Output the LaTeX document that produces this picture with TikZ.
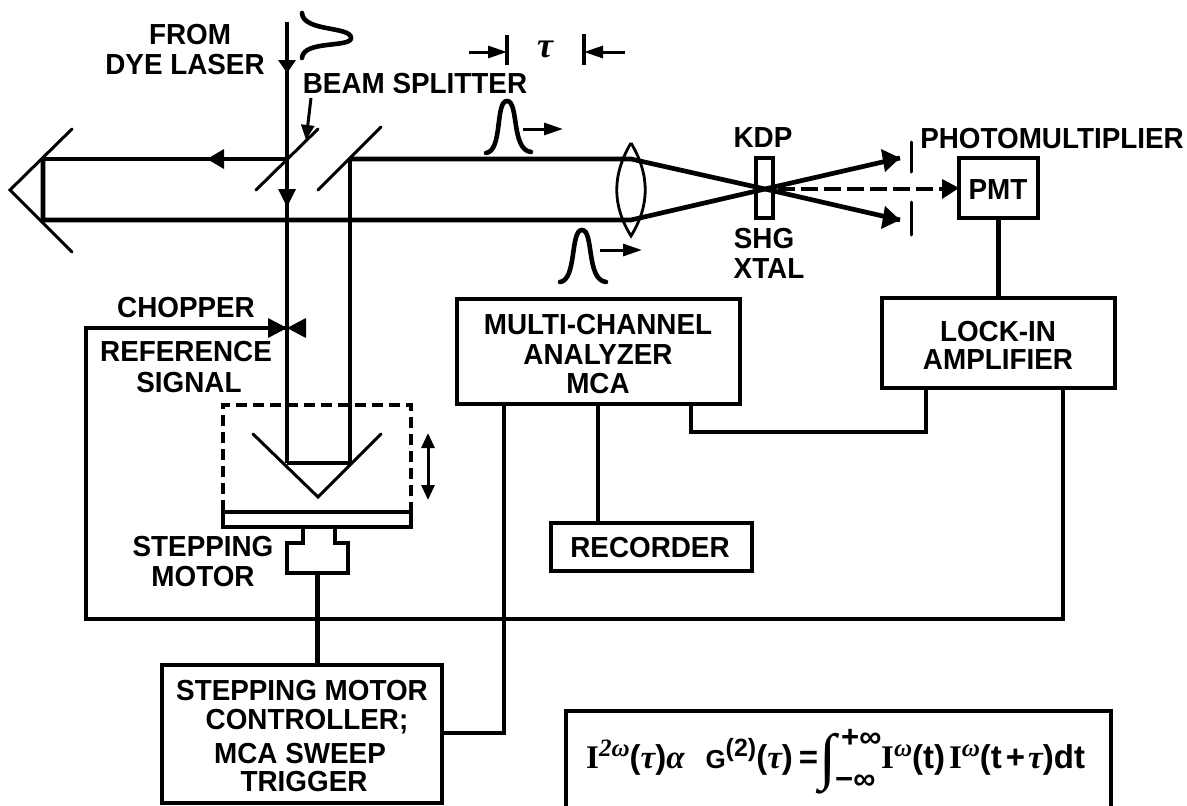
\documentclass[tikz,border=0pt]{standalone}
\usepackage{fontspec}
\setmainfont[FakeStretch=0.96]{Liberation Sans Bold}
\newfontfamily\fser{Liberation Serif Bold}
\newfontfamily\fgr{Liberation Serif Bold Italic}
\newfontfamily\fsan{Liberation Sans Bold}
\usetikzlibrary{arrows.meta}
\tikzset{
  beam/.style={line width=4.7pt},
  wire/.style={line width=4.4pt},
  thin mirror/.style={line width=3pt,line cap=round},
  blockbox/.style={draw,line width=3.8pt,inner sep=0pt,outer sep=0pt,anchor=north west},
  lbl/.style={inner sep=0pt,font=\fontsize{29}{29}\selectfont},
  smalltip/.style={-{Triangle[length=19pt,width=12pt]},line width=3pt},
  pulse/.style={line width=4.6pt,line cap=round},
}
\newcommand{\blk}[5]{\node[blockbox,minimum width=#4pt-#2pt,minimum height=#5pt-#3pt] (#1) at (#2,#3) {};}
\newcommand{\supr}[1]{\raisebox{12pt}{\fontsize{25}{25}\selectfont #1}}
\begin{document}
\begin{tikzpicture}[x=1pt,y=-1pt]
\useasboundingbox (0,0) rectangle (1187,806);
% coordinates
\coordinate (bTop) at (287,22);
\coordinate (sp1) at (287,159);
\coordinate (sp2) at (350,159);
\coordinate (retroT) at (43,159);
\coordinate (retroB) at (43,220);
\coordinate (vT) at (287,463);
\coordinate (vB) at (350,463);
\coordinate (lensT) at (631,159);
\coordinate (lensB) at (631,220);
\coordinate (focus) at (765,189);
\coordinate (outT) at (900,158);
\coordinate (outB) at (900,220);
\coordinate (chop) at (287,328);
\coordinate (refCorner) at (86,328);
\coordinate (refLow) at (86,619);
\coordinate (refRight) at (1063,619);
\coordinate (mcaR) at (598,404);
\coordinate (mcaL) at (504,404);
\coordinate (mcaS) at (691,404);
\coordinate (mcaS2) at (691,432);
\coordinate (lockS2) at (926,432);
\coordinate (lockS) at (926,388);
\coordinate (lockR) at (1063,388);
\coordinate (recT) at (598,523);
\coordinate (ctrlE) at (442,733);
\coordinate (ctrlE2) at (504,733);
\coordinate (fA) at (566,807);
\coordinate (fB) at (566,711);
\coordinate (fC) at (1111,711);
\coordinate (fD) at (1111,807);
% boxes
\blk{mca}{457}{299}{740}{404}
\blk{lockin}{882}{298}{1115}{388}
\blk{pmt}{959}{158}{1038}{218}
\blk{rec}{551}{523}{752}{571}
\blk{ctrl}{162}{665}{442}{803}
\blk{stage}{223}{512}{411}{527}
\blk{neck}{303}{527}{335}{543}
\blk{motor}{287}{543}{348}{573}
\blk{xtal}{756}{158}{773}{218}
\draw[line width=3.8pt] (fA) -- (fB) -- (fC) -- (fD);
% white patch joining neck and motor
\fill[white] (305,540) rectangle (333,546);
% dashed carriage
\node[draw,dash pattern=on 11pt off 6pt,line width=3.2pt,inner sep=0pt,outer sep=0pt,anchor=north west,minimum width=188pt,minimum height=107pt] (carriage) at (223,405) {};
% mirrors
\draw[thin mirror] (72,129) -- (10,190) -- (72,252);
\draw[thin mirror] (318,129) -- (256,190);
\draw[thin mirror] (381,127) -- (318,190);
\draw[thin mirror] (253,434) -- (318,497) -- (381,434);
% lens
\draw[line width=2.8pt] (631,143) .. controls (612,175) and (612,205) .. (631,236) .. controls (650,205) and (650,175) .. (631,143);
% beams
\draw[beam] (bTop) -- (vT);
\draw[beam] (retroT) -- (sp1);
\draw[beam] (sp2) -- (lensT) -- (focus) -- (outB);
\draw[beam] (retroT) -- (retroB) -- (lensB) -- (focus) -- (outT);
\draw[beam] (sp2) -- (vB) -- (vT);
% beam arrowheads
\fill (287,73) -- (278,60) -- (296,60) -- cycle;
\fill (287,207) -- (278,189) -- (296,189) -- cycle;
\fill (207,159) -- (224,149) -- (224,169) -- cycle;
\fill (outT) -- (881,149) -- (885,172) -- cycle;
\fill (outB) -- (885,206) -- (881,229) -- cycle;
% dashed SHG beam
\draw[beam,dash pattern=on 17pt off 6pt] (778,189) -- (945,189);
\fill (pmt.west) -- (942,179) -- (942,199) -- cycle;
% apertures
\draw[thin mirror] (911,142) -- (911,172);
\draw[thin mirror] (911,202) -- (911,235);
% wires
\draw[wire] (pmt.south) -- (lockin.north);
\draw[wire] (recT) -- (mcaR);
\draw[wire] (mcaS) -- (mcaS2) -- (lockS2) -- (lockS);
\draw[wire] (motor.south) -- (motor.south |- ctrl.north);
\draw[wire] (ctrlE) -- (ctrlE2) -- (mcaL);
\draw[wire] (chop) -- (refCorner) -- (refLow) -- (refRight) -- (lockR);
% chopper heads
\fill (chop) -- (268,318) -- (268,338) -- cycle;
\fill (chop) -- (306,318) -- (306,338) -- cycle;
% splitter pointer
\draw[line width=3pt,-{Triangle[length=15pt,width=13pt]}] (311,98) -- (306,140);
% double arrow
\draw[line width=3pt,{Triangle[length=15pt,width=13pt]}-{Triangle[length=15pt,width=13pt]}] (428,433) -- (428,500);
% pulses
\draw[pulse] (302,13) .. controls (303,32) and (351,26) .. (351,38) .. controls (351,48) and (303,40) .. (302,58);
\draw[pulse] (486,153) .. controls (503,151) and (495,101) .. (507,101) .. controls (519,101) and (511,150) .. (531,152);
\draw[pulse] (560,282) .. controls (577,280) and (570,230) .. (582,230) .. controls (594,230) and (586,280) .. (606,282);
\draw[smalltip] (523,129) -- (563,129);
\draw[smalltip] (600,250) -- (642,250);
% tau marks
\draw[line width=3.4pt] (507,35) -- (507,65);
\draw[line width=3.4pt] (584,34) -- (584,65);
\draw[smalltip] (469,52) -- (507,52);
\draw[smalltip] (625,52) -- (584,52);
\node[inner sep=0pt,font=\fontsize{36}{36}\selectfont\fgr] (tauLabel) at (545,49) {τ};
% labels
\node[lbl] (t1) at (190,35) {FROM};
\node[lbl] (t2) at (185,65) {DYE LASER};
\node[lbl] (t3) at (415,84) {BEAM SPLITTER};
\node[lbl] (t4) at (186,308) {CHOPPER};
\node[lbl] (t5) at (186,352) {REFERENCE};
\node[lbl] (t6) at (189,383) {SIGNAL};
\node[lbl] (t7) at (763,138) {KDP};
\node[lbl] (t8) at (764,239) {SHG};
\node[lbl] (t9) at (769,269) {XTAL};
\node[lbl] (t10) at (1052,139) {PHOTOMULTIPLIER};
\node[lbl] (t11) at (998,190) {PMT};
\node[lbl] (t12) at (998,332) {LOCK-IN};
\node[lbl] (t13) at (998,360) {AMPLIFIER};
\node[lbl] (t14) at (598,325) {MULTI-CHANNEL};
\node[lbl] (t15) at (598,355) {ANALYZER};
\node[lbl] (t16) at (598,384) {MCA};
\node[lbl] (t17) at (650,548) {RECORDER};
\node[lbl] (t18) at (203,547) {STEPPING};
\node[lbl] (t19) at (203,577) {MOTOR};
\node[lbl] (t20) at (302,691) {STEPPING MOTOR};
\node[lbl] (t21) at (307,722) {CONTROLLER;};
\node[lbl] (t22) at (300,754) {MCA SWEEP};
\node[lbl] (t23) at (304,782) {TRIGGER};
\node[inner sep=0pt,anchor=base west,font=\fontsize{33}{33}\selectfont] (formula) at (586,768) {%
{\fser I}\supr{\fgr 2ω}{\fsan(}{\fgr τ}{\fsan)}{\fgr α}\hspace{21pt}{\fontsize{26}{26}\selectfont\fsan G}\supr{\fsan(2)}{\fsan(}{\fgr τ}{\fsan)}\hspace{6pt}{\fsan =}\hspace{1pt}\raisebox{-9pt}{\fontsize{62}{62}\selectfont\fser ∫}\hspace{5pt}\rlap{\raisebox{21pt}{\fontsize{31}{31}\selectfont\fsan +∞}}\rlap{\raisebox{-21pt}{\fontsize{31}{31}\selectfont\fsan\hspace{-6pt}−∞}}\hspace{40pt}{\fser I}\supr{\fgr ω}{\fsan(t)}\hspace{4pt}{\fser I}\supr{\fgr ω}{\fsan(t}\hspace{4pt}{\fsan +}\hspace{3pt}{\fgr τ}{\fsan)dt}};
\end{tikzpicture}
\end{document}
